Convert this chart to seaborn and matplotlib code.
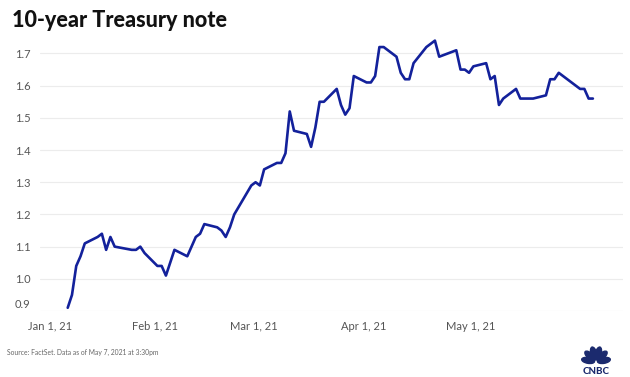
import matplotlib
matplotlib.use("Agg")
import matplotlib.pyplot as plt
import matplotlib.transforms as mtransforms
from matplotlib.patches import Ellipse
import seaborn as sns
import pandas as pd
import numpy as np

# 10-year Treasury yield (percent)
dates = [
    "2021-01-04", "2021-01-05", "2021-01-06", "2021-01-07", "2021-01-08",
    "2021-01-11", "2021-01-12", "2021-01-13", "2021-01-14", "2021-01-15",
    "2021-01-19", "2021-01-20", "2021-01-21", "2021-01-22", "2021-01-25",
    "2021-01-26", "2021-01-27", "2021-01-28", "2021-01-29", "2021-02-01",
    "2021-02-02", "2021-02-03", "2021-02-04", "2021-02-05", "2021-02-08",
    "2021-02-09", "2021-02-10", "2021-02-11", "2021-02-12", "2021-02-16",
    "2021-02-17", "2021-02-18", "2021-02-19", "2021-02-22", "2021-02-23",
    "2021-02-24", "2021-02-25", "2021-02-26", "2021-03-01", "2021-03-02",
    "2021-03-03", "2021-03-04", "2021-03-05", "2021-03-08", "2021-03-09",
    "2021-03-10", "2021-03-11", "2021-03-12", "2021-03-15", "2021-03-16",
    "2021-03-17", "2021-03-18", "2021-03-19", "2021-03-22", "2021-03-23",
    "2021-03-24", "2021-03-25", "2021-03-26", "2021-03-29", "2021-03-30",
    "2021-03-31", "2021-04-01", "2021-04-05", "2021-04-06", "2021-04-07",
    "2021-04-08", "2021-04-09", "2021-04-12", "2021-04-13", "2021-04-14",
    "2021-04-15", "2021-04-16", "2021-04-19", "2021-04-20", "2021-04-21",
    "2021-04-22", "2021-04-23", "2021-04-26", "2021-04-27", "2021-04-28",
    "2021-04-29", "2021-04-30", "2021-05-03", "2021-05-04", "2021-05-05",
    "2021-05-06", "2021-05-07",
]
yields = [
    0.91, 0.95, 1.04, 1.07, 1.11,
    1.13, 1.14, 1.09, 1.13, 1.10,
    1.09, 1.09, 1.10, 1.08, 1.04,
    1.04, 1.01, 1.05, 1.09, 1.07,
    1.10, 1.13, 1.14, 1.17, 1.16,
    1.15, 1.13, 1.16, 1.20, 1.29,
    1.30, 1.29, 1.34, 1.36, 1.36,
    1.39, 1.52, 1.46, 1.45, 1.41,
    1.47, 1.55, 1.55, 1.59, 1.54,
    1.51, 1.53, 1.63, 1.61, 1.61,
    1.63, 1.72, 1.72, 1.69, 1.64,
    1.62, 1.62, 1.67, 1.72, 1.73,
    1.74, 1.69, 1.71, 1.65, 1.65,
    1.64, 1.66, 1.67, 1.62, 1.63,
    1.54, 1.56, 1.59, 1.56, 1.56,
    1.56, 1.56, 1.57, 1.62, 1.62,
    1.64, 1.63, 1.60, 1.59, 1.59,
    1.56, 1.56,
]
y_ticks = [0.9, 1.0, 1.1, 1.2, 1.3, 1.4, 1.5, 1.6, 1.7]
x_tick_labels = ["Jan 1, 21", "Feb 1, 21", "Mar 1, 21", "Apr 1, 21", "May 1, 21"]

df = pd.DataFrame({"date": pd.to_datetime(dates), "yield": yields})

sns.set_theme(style="white")
plt.rcParams["font.family"] = ["Lato", "DejaVu Sans"]

fig = plt.figure(figsize=(6.3, 3.77), dpi=100)
ax = fig.add_axes([40 / 630, 1 - 311 / 377, 583 / 630, (311 - 37.4) / 377])

sns.lineplot(data=df, x="date", y="yield", ax=ax, color="#13219b", linewidth=1.9)

start = df["date"].iloc[0]
ax.set_xlim(start - pd.Timedelta(days=6.49), start + pd.Timedelta(days=130.05))
ax.set_ylim(0.9, 1.75)

# tick labels sit where the original chart put them
tick_offsets = [-4.15, 20.45, 43.63, 69.27, 94.33]
ax.set_xticks([start + pd.Timedelta(days=d) for d in tick_offsets])
ax.set_xticklabels(x_tick_labels)
ax.set_yticks(y_ticks)
ax.set_yticklabels([f"{v:.1f}" for v in y_ticks])

ax.grid(axis="y", color="#ececec", linewidth=0.8)
ax.grid(axis="x", visible=False)
for s in ax.spines.values():
    s.set_visible(False)
ax.tick_params(axis="both", length=0, labelsize=8, colors="#555555")
ax.tick_params(axis="x", pad=7)
ax.tick_params(axis="y", pad=7)
ax.set_xlabel("")
ax.set_ylabel("")

# bottom label is nudged up off the baseline like the original
lbl = ax.get_yticklabels()[0]
lbl.set_transform(lbl.get_transform() + mtransforms.ScaledTranslation(0, 8 / 100, fig.dpi_scale_trans))

fig.text(12 / 630, 1 - 27 / 377, "10-year Treasury note", fontsize=15.5,
         fontweight="black", color="#111111", va="baseline", ha="left")
fig.text(7 / 630, 1 - 352 / 377, "Source: FactSet. Data as of May 7, 2021 at 3:30pm",
         fontsize=4.9, color="#666666", va="center", ha="left")

# small peacock logo
lax = fig.add_axes([576 / 630, 1 - 376 / 377, 40 / 630, 34 / 377])
lax.set_xlim(0, 40)
lax.set_ylim(0, 34)
lax.axis("off")
navy = "#1b2a6e"
for ang in np.linspace(170, 10, 6):
    r = np.deg2rad(ang)
    cx, cy = 20 + 8 * np.cos(r), 14 + 9 * np.sin(r)
    lax.add_patch(Ellipse((cx, cy), 13, 5.8, angle=ang, color=navy))
lax.text(20, 5, "CNBC", fontsize=7, fontweight="black", color=navy,
         ha="center", va="center")

fig.savefig("out.png", dpi=100)
